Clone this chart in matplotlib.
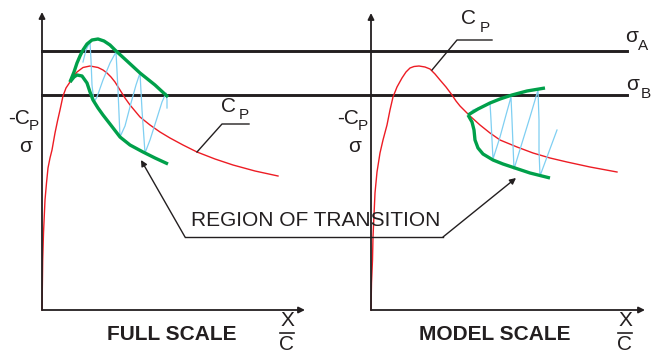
import matplotlib.pyplot as plt

plt.rcParams['font.family'] = ['Liberation Sans', 'DejaVu Sans']

INK = '#231f20'
RED = '#ed1c24'
GREEN = '#00a04a'
BLUE = '#7fcff2'

# ----------------------------------------------------------
# curve data, in panel units (x/c to the right, -Cp / sigma up)
# ----------------------------------------------------------
sigma_a = 259
sigma_b = 215

full_cp_x = [0, 0.3, 0.7, 1.5, 3, 4.5, 6, 8, 10, 13, 15.5, 18, 21, 24, 28, 31.5, 35,
             41, 48, 56, 61, 65, 69, 73, 78, 83, 88, 93, 98, 108, 118, 128, 141,
             155, 173, 191, 213, 236]
full_cp_y = [0, 20, 50, 77, 110, 127, 142, 152, 160, 177, 189, 200, 214, 222, 228,
             234, 238, 242.5, 244, 242.5, 240, 237, 233, 228, 220, 212, 205, 199, 193,
             185, 178, 172, 165, 158, 151, 145, 139, 134]

full_upper_x = [28, 32, 35, 38, 41, 45, 50, 56, 62, 68, 73, 85, 98, 113, 126]
full_upper_y = [228, 238, 247, 254, 260, 266, 270, 271, 269, 265, 260, 249, 237, 225, 213]
full_lower_x = [28, 32, 35, 40, 45, 48, 51, 56, 61, 68, 78, 88, 101, 113, 126]
full_lower_y = [228, 233, 235, 234, 227, 218, 210, 202, 195, 186, 173, 165, 158, 152, 146]

full_wave_x = [41, 44, 48, 49, 50, 52, 55, 61, 68, 74, 76, 78, 83, 89, 94, 98,
               100, 103, 108, 115, 120, 124, 125, 125]
full_wave_y = [248, 260, 268, 250, 225, 208, 213, 230, 247, 258, 220, 173, 184, 207,
               225, 237, 200, 157, 170, 192, 208, 217, 210, 202]

model_cp_x = [0, 0.5, 1.5, 2, 3, 4, 6, 9, 12, 16, 19, 22, 26, 31, 35, 39, 43, 48,
              54, 59, 64, 69, 75, 81, 85, 89, 94, 99, 109, 119, 129, 146, 162, 179,
              196, 219, 246]
model_cp_y = [0, 27, 50, 73, 95, 117, 138, 157, 170, 185, 200, 213, 223, 232, 238,
              242, 243.5, 244, 243, 241, 236, 230, 223, 215, 209, 204, 199, 194, 185,
              177, 170, 163, 157, 152, 148, 143, 138]

model_upper_x = [97, 107, 119, 129, 141, 156, 174]
model_upper_y = [195, 201, 207, 211, 215, 219, 222]
model_lower_x = [97, 101, 103, 104, 107, 112, 122, 132, 144, 159, 179]
model_lower_y = [195, 188, 180, 170, 162, 156, 150, 146, 142, 137, 132]

model_wave_x = [97, 102, 111, 119, 120, 121, 122, 129, 135, 140, 141, 142, 143, 151,
                159, 167, 168, 168, 169, 176, 186]
model_wave_y = [195, 200, 203, 207, 190, 170, 151, 173, 195, 213, 190, 165, 141, 167,
                193, 220, 190, 160, 134, 153, 180]

fig = plt.figure(figsize=(6.52, 3.54), dpi=100)
W, H = 652, 354


def panel(x0, y0, w, h):
    ax = fig.add_axes([x0 / W, (H - y0) / H, w / W, h / H])
    ax.set_xlim(0, w)
    ax.set_ylim(0, h)
    ax.axis('off')
    arrow = dict(arrowstyle='-|>', lw=1.3, color=INK, mutation_scale=9,
                 shrinkA=0, shrinkB=0)
    ax.annotate('', xy=(0, h), xytext=(0, 0), arrowprops=arrow, annotation_clip=False)
    ax.annotate('', xy=(w, 0), xytext=(0, 0), arrowprops=arrow, annotation_clip=False)
    return ax


ax_full = panel(42, 310, 263, 298)
ax_model = panel(371, 310, 274, 297)

# sigma levels run across both panels
for s in (sigma_a, sigma_b):
    ax_full.plot([0, 585], [s, s], color=INK, lw=2.1, clip_on=False, zorder=1)

for ax, cx, cy, ux, uy, lx, ly, wx, wy in [
    (ax_full, full_cp_x, full_cp_y, full_upper_x, full_upper_y,
     full_lower_x, full_lower_y, full_wave_x, full_wave_y),
    (ax_model, model_cp_x, model_cp_y, model_upper_x, model_upper_y,
     model_lower_x, model_lower_y, model_wave_x, model_wave_y),
]:
    ax.plot(cx, cy, color=RED, lw=1.0, clip_on=False, zorder=2)
    ax.plot(wx, wy, color=BLUE, lw=0.9, clip_on=False, zorder=3)
    ax.plot(ux, uy, color=GREEN, lw=2.4, solid_capstyle='butt', clip_on=False, zorder=4)
    ax.plot(lx, ly, color=GREEN, lw=2.4, solid_capstyle='butt', clip_on=False, zorder=4)

# ----------------------------------------------------------
# labels and leaders (figure pixels, y down)
# ----------------------------------------------------------
ov = fig.add_axes([0, 0, 1, 1], zorder=5)
ov.set_xlim(0, W)
ov.set_ylim(H, 0)
ov.axis('off')

big = dict(color=INK, fontsize=15, ha='center', va='center')
sub = dict(color=INK, fontsize=11, ha='center', va='center')

for xc, xp, xs in [(19, 34, 26), (348, 363, 355)]:
    ov.text(xc, 118, '-C', **big)
    ov.text(xp, 126, 'P', **sub)
    ov.text(xs, 146, 'σ', **big)

ov.text(229, 107, 'C', **big)
ov.text(244, 115, 'P', **sub)
ov.plot([249, 222, 197], [124, 124, 152], color=INK, lw=1.0)

ov.text(469, 19, 'C', **big)
ov.text(485, 28, 'P', **sub)
ov.plot([492, 457, 432], [40, 40, 70], color=INK, lw=1.0)

ov.text(632, 36, 'σ', **big)
ov.text(643, 46, 'A', **sub)
ov.text(633, 85, 'σ', **big)
ov.text(646, 94, 'B', **sub)

ov.text(316, 221, 'REGION OF TRANSITION', **big)
ov.plot([185, 443], [237, 237], color=INK, lw=1.0)
lead = dict(arrowstyle='-|>', lw=1.0, color=INK, mutation_scale=9, shrinkA=0, shrinkB=0)
ov.annotate('', xy=(141, 160), xytext=(185, 237), arrowprops=lead)
ov.annotate('', xy=(516, 178), xytext=(443, 237), arrowprops=lead)

ov.text(172, 334, 'FULL SCALE', color=INK, fontsize=15, fontweight='bold',
        ha='center', va='center')
ov.text(495, 334, 'MODEL SCALE', color=INK, fontsize=15, fontweight='bold',
        ha='center', va='center')

for xm in (287, 625):
    ov.text(xm, 320, 'X', **big)
    ov.plot([xm - 7, xm + 7], [333, 333], color=INK, lw=1.2)
    ov.text(xm, 345, 'C', **big)

fig.savefig('out.png', dpi=100)
